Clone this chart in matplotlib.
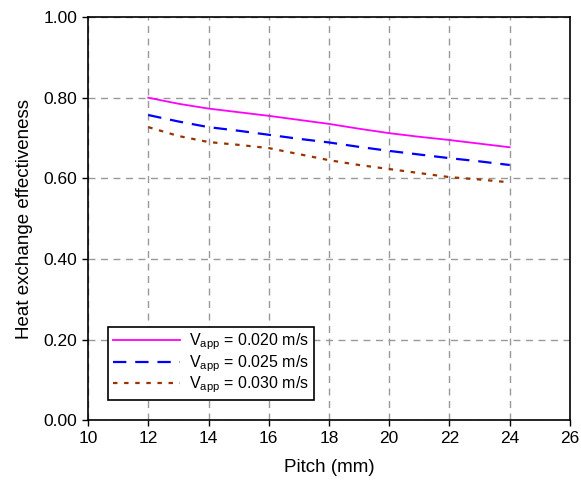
import matplotlib
matplotlib.use("Agg")
import matplotlib.pyplot as plt

plt.rcParams['font.family'] = ['Liberation Sans', 'DejaVu Sans']
plt.rcParams['mathtext.fontset'] = 'custom'
plt.rcParams['mathtext.rm'] = 'Liberation Sans'

pitch = [12, 13, 14, 15, 16, 17, 18, 19, 20, 21, 22, 23, 24]
eff_020 = [0.800, 0.785, 0.773, 0.764, 0.755, 0.745, 0.735, 0.723, 0.712, 0.703, 0.695, 0.686, 0.677]
eff_025 = [0.757, 0.741, 0.727, 0.718, 0.708, 0.698, 0.689, 0.678, 0.668, 0.659, 0.650, 0.642, 0.633]
eff_030 = [0.727, 0.705, 0.690, 0.683, 0.675, 0.660, 0.645, 0.633, 0.623, 0.613, 0.603, 0.597, 0.590]
labels = [r'V$_{\mathregular{app}}$ = 0.020 m/s',
          r'V$_{\mathregular{app}}$ = 0.025 m/s',
          r'V$_{\mathregular{app}}$ = 0.030 m/s']
xticks = [10, 12, 14, 16, 18, 20, 22, 24, 26]
yticks = [0.0, 0.2, 0.4, 0.6, 0.8, 1.0]

fig = plt.figure(figsize=(5.81, 4.88), dpi=100)
ax = fig.add_axes([0.1515, 0.139, 0.8295, 0.826])

ax.plot(pitch, eff_020, color='#FF00FF', lw=1.3, ls='-', label=labels[0])
ax.plot(pitch, eff_025, color='#0000FF', lw=1.6, ls=(0, (6, 4)), label=labels[1])
ax.plot(pitch, eff_030, color='#993300', lw=1.6, ls=(0, (2, 3)), label=labels[2])

ax.set_xlim(10, 26)
ax.set_ylim(0, 1.0)
ax.set_xticks(xticks)
ax.set_yticks(yticks)
ax.set_yticklabels([f'{v:.2f}' for v in yticks])
ax.tick_params(direction='out', labelsize=12.5, length=4, width=1)
ax.grid(True, color='#999999', ls=(0, (5, 4)), lw=1)
ax.set_axisbelow(True)
for s in ax.spines.values():
    s.set_linewidth(1.2)

ax.set_xlabel('Pitch (mm)', fontsize=13.5, labelpad=10)
ax.set_ylabel('Heat exchange effectiveness', fontsize=13.5, labelpad=8)

leg = ax.legend(loc='lower left', bbox_to_anchor=(0.041, 0.05), borderaxespad=0,
                fontsize=11.5, frameon=True, fancybox=False, edgecolor='black',
                framealpha=1, handlelength=4.2, borderpad=0.3, labelspacing=0.05,
                handletextpad=0.6)
leg.get_frame().set_linewidth(1.2)

fig.savefig('out.png', dpi=100)
